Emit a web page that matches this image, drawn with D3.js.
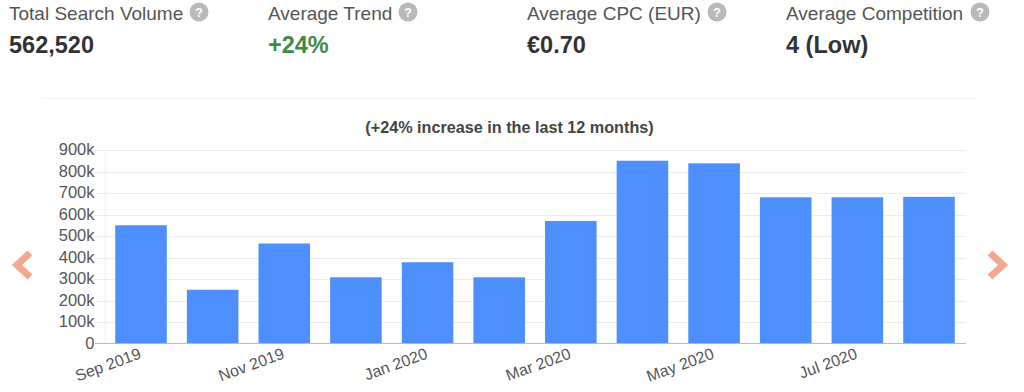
<!DOCTYPE html>
<html><head><meta charset="utf-8">
<style>
html,body{margin:0;padding:0;background:#fff;overflow:hidden}
svg{display:block}
text{font-family:"Liberation Sans",Arial,sans-serif}
</style>
<script src="https://cdn.jsdelivr.net/npm/d3@7/dist/d3.min.js"></script>
</head><body><svg id="c" width="1024" height="392"></svg>
<script>
const months=["Sep 2019","Oct 2019","Nov 2019","Dec 2019","Jan 2020","Feb 2020","Mar 2020","Apr 2020","May 2020","Jun 2020","Jul 2020","Aug 2020"];
const volumes=[550000,250000,465000,308000,378000,308000,570000,850000,838000,680000,680000,682000];
const yTicks=[0,100000,200000,300000,400000,500000,600000,700000,800000,900000];
const statLabels=["Total Search Volume","Average Trend","Average CPC (EUR)","Average Competition"];
const statValues=["562,520","+24%","€0.70","4 (Low)"];
const statColors=["#333333","#3f8a46","#333333","#333333"];
const statX=[9,268,527,786];
const helpX=[199,408,717,980];
const chartTitle="(+24% increase in the last 12 months)";

const svg=d3.select("#c");
statLabels.forEach((t,i)=>{
  svg.append("text").attr("x",statX[i]).attr("y",20).attr("font-size",19).attr("fill","#555").text(t);
  svg.append("text").attr("x",statX[i]).attr("y",53).attr("font-size",23.5).attr("font-weight",700).attr("fill",statColors[i]).text(statValues[i]);
  svg.append("circle").attr("cx",helpX[i]).attr("cy",12).attr("r",9.5).attr("fill","#b9b9b9");
  svg.append("text").attr("x",helpX[i]).attr("y",17).attr("text-anchor","middle").attr("font-size",13).attr("font-weight",700).attr("fill","#fff").text("?");
});
svg.append("line").attr("x1",42).attr("x2",976).attr("y1",98.5).attr("y2",98.5).attr("stroke","#f0f0f0");
svg.append("text").attr("x",509.5).attr("y",133).attr("text-anchor","middle").attr("font-size",16.2).attr("font-weight",700).attr("fill","#444").text(chartTitle);

const x=d3.scaleBand().domain(months).range([105.2,964.8]).paddingInner(0.28).paddingOuter(0.14);
const y=d3.scaleLinear().domain([0,900000]).range([343.5,150]);

svg.append("g").selectAll("line").data(yTicks.slice(1)).join("line")
  .attr("x1",95).attr("x2",966).attr("y1",d=>Math.round(y(d))+.5).attr("y2",d=>Math.round(y(d))+.5).attr("stroke","#ececec");
svg.append("line").attr("x1",105).attr("x2",105).attr("y1",150).attr("y2",343).attr("stroke","#f0f0f0");
svg.append("line").attr("x1",898).attr("x2",898).attr("y1",197).attr("y2",343).attr("stroke","#f0f0f0");

svg.append("g").selectAll("rect").data(volumes).join("rect")
  .attr("x",(d,i)=>x(months[i])).attr("width",x.bandwidth())
  .attr("y",d=>y(d)).attr("height",d=>y(0)-y(d)).attr("fill","#4d8fff");

svg.append("line").attr("x1",95).attr("x2",966).attr("y1",343.5).attr("y2",343.5).attr("stroke","#bbb");

const yAxis=d3.axisLeft(y).tickValues(yTicks).tickSize(0).tickPadding(0)
  .tickFormat(d=>d===0?"0":(d/1000)+"k");
const gy=svg.append("g").attr("transform","translate(94.5,-0.5)").call(yAxis);
gy.select(".domain").remove();
gy.selectAll("text").attr("font-size",16.5).attr("fill","#555").style("font-family",'"Liberation Sans",Arial,sans-serif');

svg.append("g").selectAll("text").data(months.filter((m,i)=>i%2===0)).join("text")
  .attr("text-anchor","end").attr("font-size",16).attr("fill","#555")
  .attr("transform",d=>`translate(${x(d)+x.bandwidth()/2+1},358) rotate(-20)`)
  .text(d=>d);

const arrow=d3.line();
svg.append("path").attr("d",arrow([[30,253],[17,265],[30,277]])).attr("fill","none").attr("stroke","#f2a88e").attr("stroke-width",7);
svg.append("path").attr("d",arrow([[990,253],[1003,265],[990,277]])).attr("fill","none").attr("stroke","#f2a88e").attr("stroke-width",7);
</script></body></html>
